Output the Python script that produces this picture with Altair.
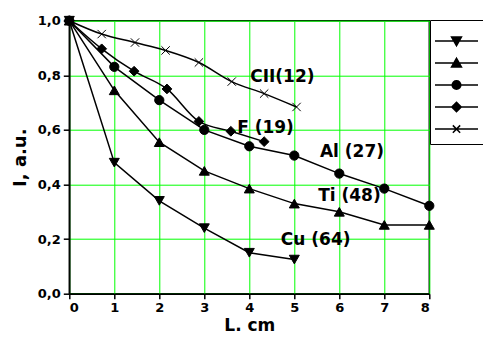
import altair as alt
import pandas as pd
import math

# ---- data ----
series_ids = ["1", "2", "3", "4", "5"]

x_cu = [0, 1, 2, 3, 4, 5]
y_cu = [1.0, 0.48, 0.34, 0.24, 0.15, 0.125]

x_ti = [0, 1, 2, 3, 4, 5, 6, 7, 8]
y_ti = [1.0, 0.745, 0.555, 0.45, 0.385, 0.33, 0.30, 0.252, 0.252]

x_al = [0, 1, 2, 3, 4, 5, 6, 7, 8]
y_al = [1.0, 0.831, 0.709, 0.60, 0.54, 0.506, 0.44, 0.385, 0.322]

x_f = [0, 0.72, 1.44, 2.17, 2.88, 3.59, 4.33]
y_f = [1.0, 0.897, 0.815, 0.75, 0.631, 0.595, 0.557]

x_c = [0, 0.72, 1.46, 2.14, 2.88, 3.61, 4.33, 5.05]
y_c = [1.0, 0.951, 0.92, 0.891, 0.847, 0.777, 0.733, 0.684]

label_text = ["CII(12)", "F (19)", "Al (27)", "Ti (48)", "Cu (64)"]
label_x = [4.02, 3.73, 5.57, 5.53, 4.70]
label_y = [0.795, 0.607, 0.519, 0.358, 0.196]

x_ticks = [0, 0.5, 1, 1.5, 2, 2.5, 3, 3.5, 4, 4.5, 5, 5.5, 6, 6.5, 7, 7.5, 8]
y_ticks = [0.0, 0.1, 0.2, 0.3, 0.4, 0.5, 0.6, 0.7, 0.8, 0.9, 1.0]

# ---- build tables ----
rows = []
for sid, xs, ys in zip(series_ids, [x_cu, x_ti, x_al, x_f, x_c], [y_cu, y_ti, y_al, y_f, y_c]):
    for xv, yv in zip(xs, ys):
        rows.append({"series": sid, "L": xv, "I": yv})
df = pd.DataFrame(rows)
labels_df = pd.DataFrame({"text": label_text, "L": label_x, "I": label_y})

FONT = "DejaVu Sans"
GREEN = "#00ff00"
MINOR = "#8de88d"

x_scale = alt.Scale(domain=[0, 8], nice=False, zero=False)
y_scale = alt.Scale(domain=[0, 1], nice=False, zero=False)

x_major = "datum.value % 1 == 0"
y_major = "round(datum.value * 10) % 2 == 0"

x_axis = alt.Axis(
    values=x_ticks,
    title="L. cm",
    labelExpr="datum.value % 1 == 0 ? format(datum.value, 'd') : ''",
    grid=True,
    gridColor={"condition": {"test": x_major, "value": GREEN}, "value": MINOR},
    gridDash={"condition": {"test": x_major, "value": []}, "value": [1, 1]},
    gridWidth=1,
    tickSize={"condition": {"test": x_major, "value": 5}, "value": 3},
    tickColor="black",
    tickWidth=1.5,
    domainColor="black",
    domainWidth=1.5,
    labelFont=FONT,
    labelFontWeight="bold",
    labelFontSize=13,
    labelColor="black",
    labelPadding=3,
    labelOverlap=False,
    titleFont=FONT,
    titleFontWeight="bold",
    titleFontSize=17,
    titleColor="black",
    titlePadding=3,
)
y_axis = alt.Axis(
    values=y_ticks,
    title="I, a.u.",
    labelExpr=y_major + " ? replace(format(datum.value, '.1f'), '.', ',') : ''",
    grid=True,
    gridColor={"condition": {"test": y_major, "value": GREEN}, "value": MINOR},
    gridDash={"condition": {"test": y_major, "value": []}, "value": [1, 1]},
    gridWidth=1,
    tickSize={"condition": {"test": y_major, "value": 6}, "value": 3},
    tickColor="black",
    tickWidth=1.5,
    domainColor="black",
    domainWidth=1.5,
    labelFont=FONT,
    labelFontWeight="bold",
    labelFontSize=13,
    labelColor="black",
    labelPadding=3,
    labelOverlap=False,
    titleFont=FONT,
    titleFontWeight="bold",
    titleFontSize=18,
    titleColor="black",
    titlePadding=8,
)

base = alt.Chart(df)

lines_straight = base.transform_filter(
    alt.FieldOneOfPredicate(field="series", oneOf=["1", "2", "3"])
).mark_line(color="black", strokeWidth=1.5).encode(
    x=alt.X("L:Q", scale=x_scale, axis=x_axis),
    y=alt.Y("I:Q", scale=y_scale, axis=y_axis),
    detail="series:N",
)

lines_smooth = base.transform_filter(
    alt.FieldOneOfPredicate(field="series", oneOf=["4", "5"])
).mark_line(color="black", strokeWidth=1.5, interpolate="monotone").encode(
    x=alt.X("L:Q", scale=x_scale),
    y=alt.Y("I:Q", scale=y_scale),
    detail="series:N",
)

plot_shapes = ["triangle-down", "triangle-up", "circle", "diamond", "M-1,-1L1,1M-1,1L1,-1"]
plot_sizes = [100, 100, 85, 95, 70]

point_layers = []
for sid, shp, sz in zip(series_ids, plot_shapes, plot_sizes):
    point_layers.append(
        base.transform_filter(alt.datum.series == sid).mark_point(
            shape=shp, size=sz, filled=True, color="black", stroke="black",
            strokeWidth=1, opacity=1,
        ).encode(
            x=alt.X("L:Q", scale=x_scale),
            y=alt.Y("I:Q", scale=y_scale),
        )
    )


# ---- legend glyphs: a line with a solid marker drawn from strokes ----
def hatch(halfwidth_fn, y0, y1, step=0.045):
    parts = []
    n = int(round((y1 - y0) / step))
    for i in range(n + 1):
        yy = y0 + (y1 - y0) * i / n
        hw = halfwidth_fn(yy)
        if hw > 0.005:
            parts.append("M%.3f,%.3fH%.3f" % (-hw, yy, hw))
    return "".join(parts)


LINE = "M-1,0H1"
tri_dn = LINE + hatch(lambda y: 0.23 * (0.22 - y) / 0.41, -0.19, 0.2) + "M-0.23,-0.19H0.23L0,0.22Z"
tri_up = LINE + hatch(lambda y: 0.23 * (y + 0.22) / 0.41, -0.2, 0.19) + "M-0.23,0.19H0.23L0,-0.22Z"
circ = LINE + hatch(lambda y: math.sqrt(max(0.0, 0.2 ** 2 - y ** 2)), -0.18, 0.18) + \
    "M0.2,0A0.2,0.2,0,1,1,-0.2,0A0.2,0.2,0,1,1,0.2,0Z"
diam = LINE + hatch(lambda y: 0.22 - abs(y), -0.2, 0.2) + "M0,-0.22L0.22,0L0,0.22L-0.22,0Z"
xmark = LINE + "M-0.17,-0.17L0.17,0.17M-0.17,0.17L0.17,-0.17"
legend_shapes = [tri_dn, tri_up, circ, diam, xmark]

legend_layer = base.mark_point(
    filled=False, color="black", stroke="black", strokeWidth=1.5, opacity=0
).encode(
    x=alt.X("L:Q", scale=x_scale),
    y=alt.Y("I:Q", scale=y_scale),
    shape=alt.Shape(
        "series:N",
        scale=alt.Scale(domain=series_ids, range=legend_shapes),
        legend=alt.Legend(
            title=" ",
            titleFontSize=4,
            titlePadding=2.2,
            orient="none",
            legendX=360.7,
            legendY=-0.7,
            padding=4,
            rowPadding=0,
            clipHeight=21.65,
            strokeColor="black",
            fillColor="white",
            symbolSize=1849,
            symbolStrokeWidth=1.5,
            symbolStrokeColor="black",
            symbolOpacity=1,
            symbolOffset=0,
            labelOffset=0,
            labelExpr="''",
            labelFontSize=1,
        ),
    ),
)

texts = alt.Chart(labels_df).mark_text(
    align="left", baseline="middle", font=FONT, fontWeight="bold", fontSize=17, color="black"
).encode(
    x=alt.X("L:Q", scale=x_scale),
    y=alt.Y("I:Q", scale=y_scale),
    text="text:N",
)

chart = alt.layer(lines_straight, lines_smooth, *point_layers, legend_layer, texts).properties(
    width=360,
    height=273,
    autosize=alt.AutoSizeParams(type="none"),
    padding={"left": 61.3, "top": 12.7, "right": 53.7, "bottom": 40.3},
    background="white",
).configure_view(stroke="black", strokeWidth=1.5)

chart.save("out.html", embed_options={"renderer": "svg", "actions": False})
